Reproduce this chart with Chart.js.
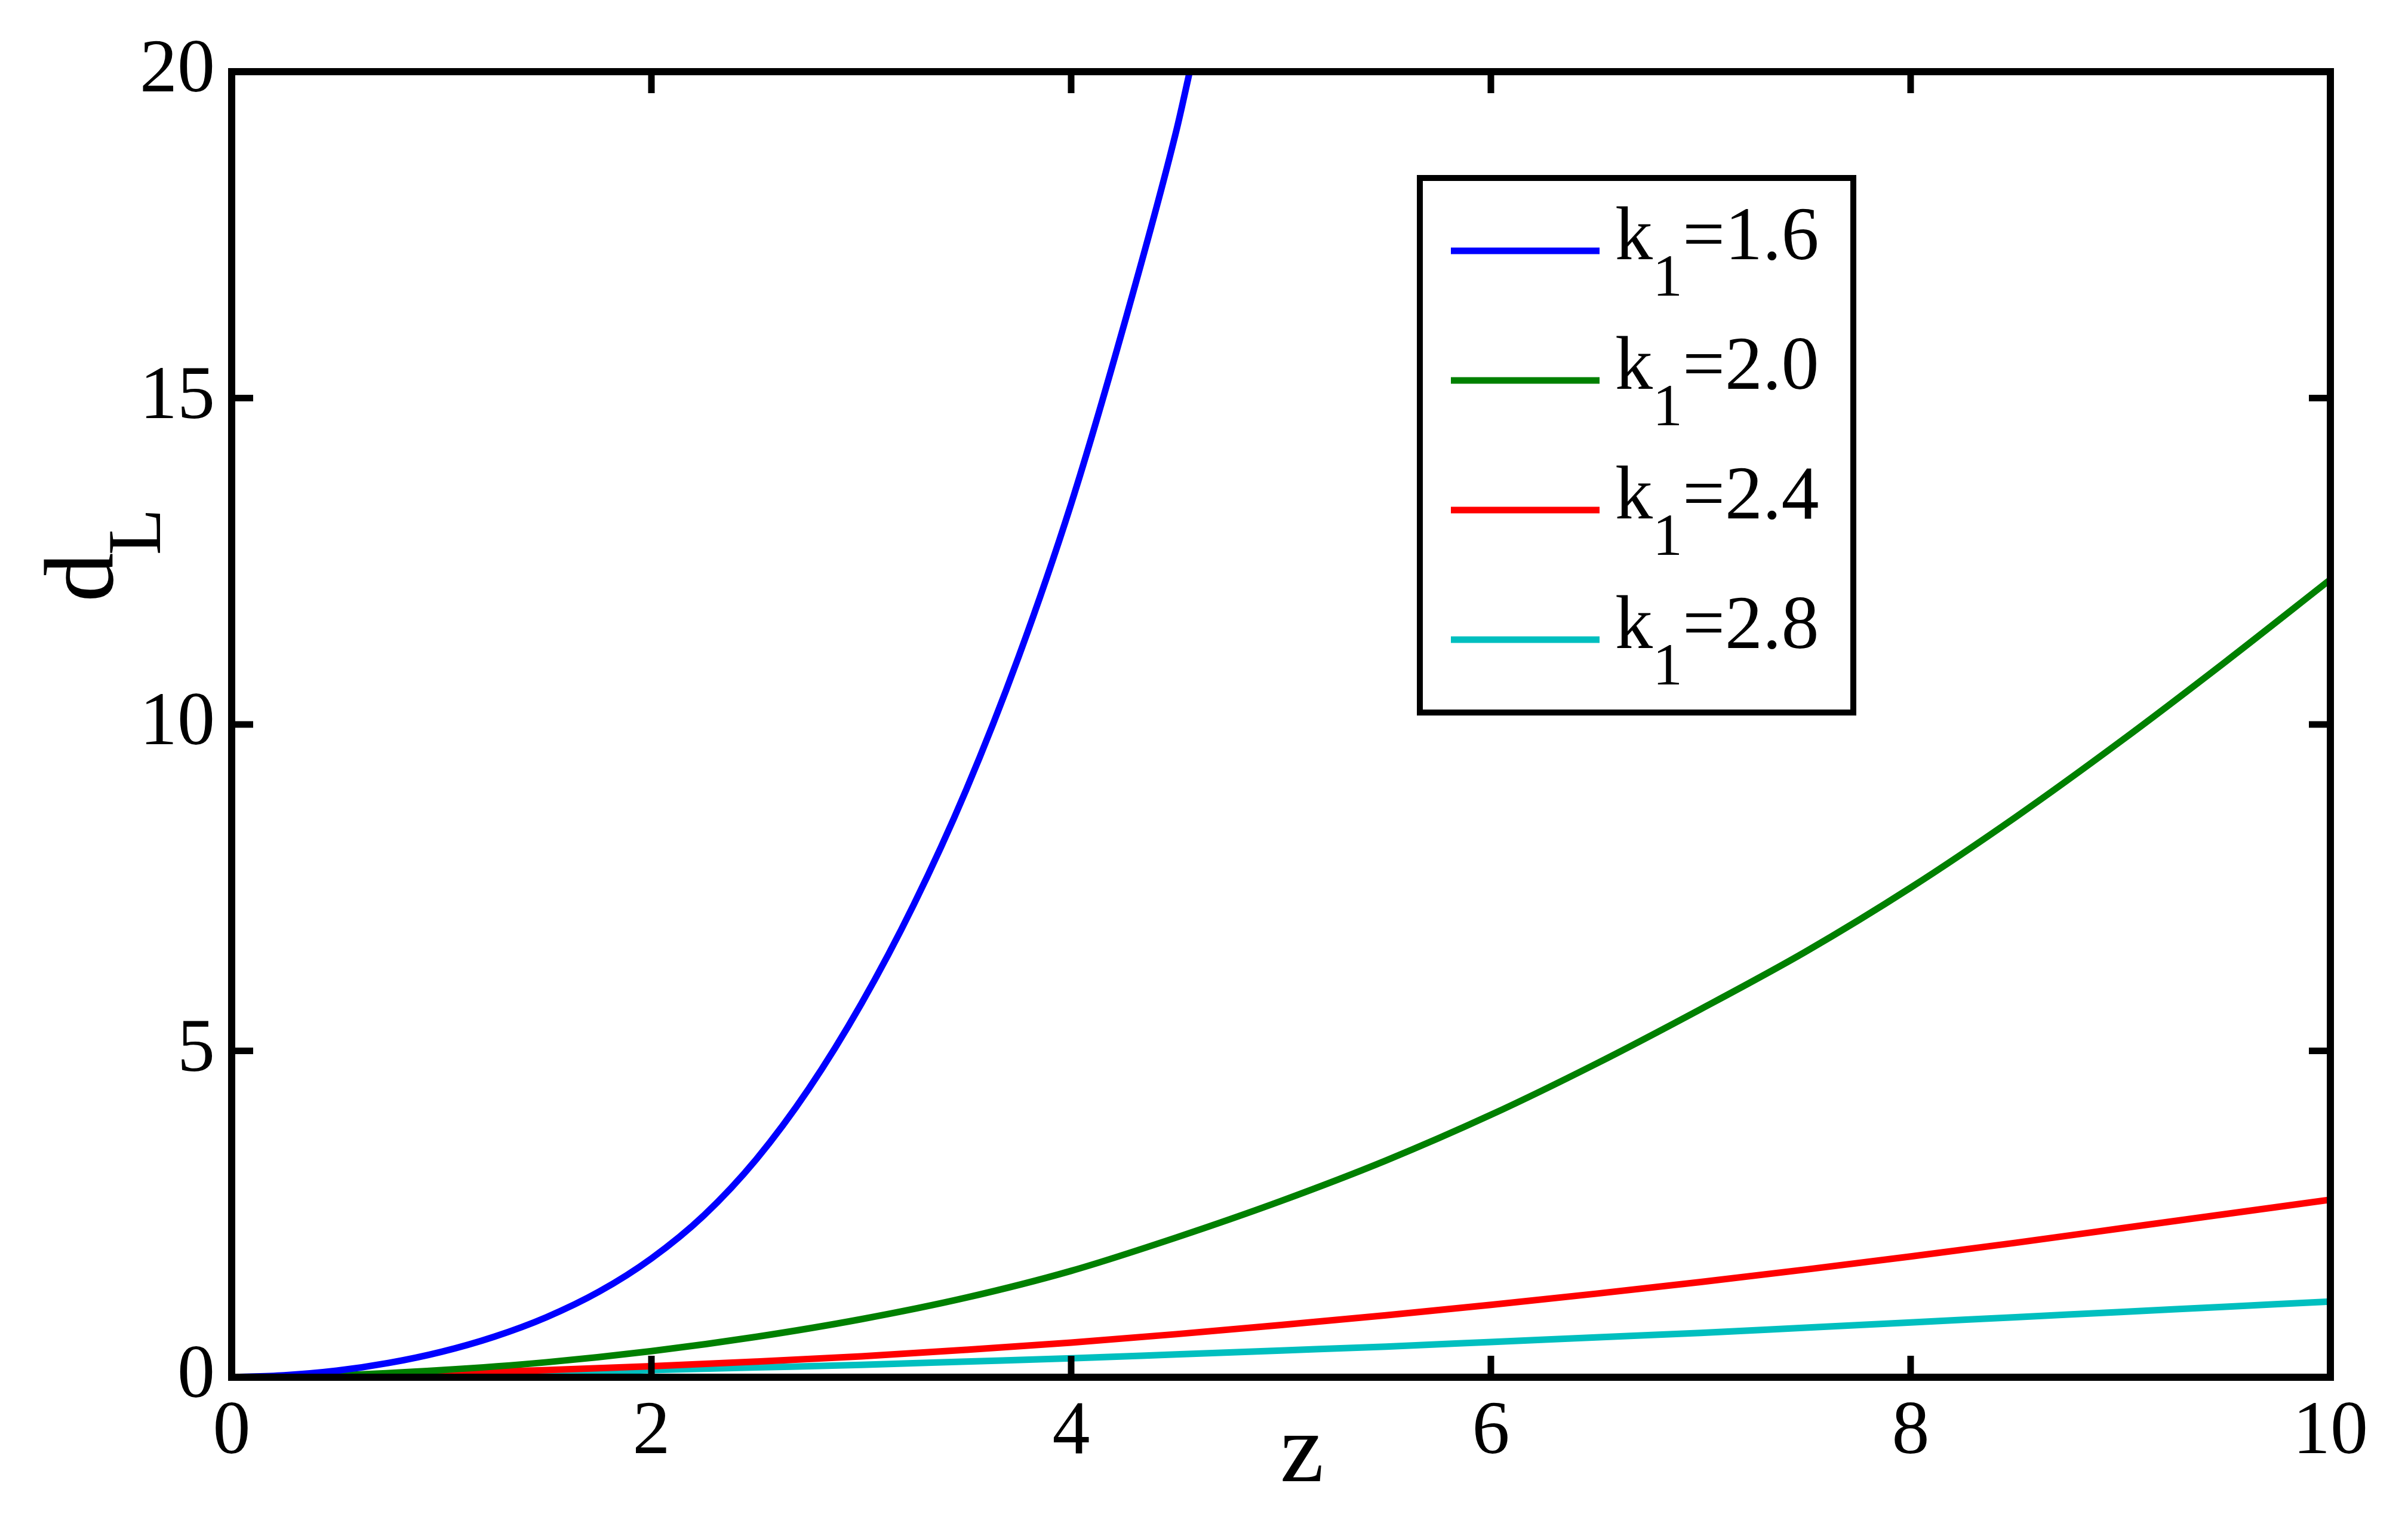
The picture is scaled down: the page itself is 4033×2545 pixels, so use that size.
<!DOCTYPE html>
<html>
<head>
<meta charset="utf-8">
<style>
html,body{margin:0;padding:0;background:#ffffff;}
#wrap{width:4033px;height:2545px;position:relative;}
canvas{display:block;}
</style>
<script src="https://cdn.jsdelivr.net/npm/chart.js@4.4.0/dist/chart.umd.min.js"></script>
</head>
<body>
<div id="wrap"><canvas id="c" width="4033" height="2545"></canvas></div>
<script>
// ---- data ----
const kValues = ['1.6', '2.0', '2.4', '2.8'];
const seriesColors = ['#0000FF', '#008000', '#FF0000', '#00BFBF'];

const zBlue = [0, 0.25, 0.5, 0.75, 1, 1.25, 1.5, 1.75, 2, 2.25, 2.5, 2.75, 3, 3.25, 3.5, 3.75, 4, 4.25, 4.5, 4.565];
const dBlue = [0, 0.03, 0.10, 0.22, 0.39, 0.62, 0.92, 1.31, 1.82, 2.48, 3.34, 4.42, 5.72, 7.24, 9.00, 11.04, 13.38, 16.10, 19.08, 20.00];

const zGrid = [0, 0.5, 1, 1.5, 2, 2.5, 3, 3.5, 4, 4.5, 5, 5.5, 6, 6.5, 7, 7.5, 8, 8.5, 9, 9.5, 10];
const dGreen = [0, 0.03, 0.11, 0.23, 0.40, 0.62, 0.89, 1.22, 1.63, 2.14, 2.70, 3.32, 4.02, 4.80, 5.64, 6.52, 7.50, 8.58, 9.74, 10.96, 12.22];
const dRed   = [0, 0.02, 0.06, 0.11, 0.17, 0.24, 0.32, 0.42, 0.53, 0.66, 0.80, 0.95, 1.11, 1.28, 1.46, 1.65, 1.85, 2.06, 2.28, 2.50, 2.72];
const dCyan  = [0, 0.015, 0.04, 0.07, 0.11, 0.15, 0.19, 0.24, 0.29, 0.35, 0.41, 0.47, 0.54, 0.61, 0.68, 0.76, 0.84, 0.92, 1.00, 1.08, 1.16];

const xTickValues = [0, 2, 4, 6, 8, 10];
const yTickValues = [0, 5, 10, 15, 20];
const xTitle = 'z';
const yTitleMain = 'd';
const yTitleSub = 'L';
const legendMain = 'k';
const legendSub = '1';

// ---- build ----
const FONT = "'Liberation Serif', 'Times New Roman', serif";
const toPts = (zs, ds) => zs.map((z, i) => ({x: z, y: ds[i]}));
const seriesData = [toPts(zBlue, dBlue), toPts(zGrid, dGreen), toPts(zGrid, dRed), toPts(zGrid, dCyan)];

const datasets = seriesData.map((d, i) => ({
  label: legendMain + legendSub + '=' + kValues[i],
  data: d,
  borderColor: seriesColors[i],
  backgroundColor: seriesColors[i],
  borderWidth: 11,
  pointRadius: 0,
  fill: false,
  cubicInterpolationMode: 'monotone'
}));

const framePlugin = {
  id: 'frame',
  afterDatasetsDraw(chart) {
    const {ctx, chartArea: a, scales: {x, y}} = chart;
    const tl = 36;
    ctx.save();
    ctx.strokeStyle = '#000';
    ctx.lineCap = 'butt';
    ctx.beginPath();
    x.ticks.forEach(t => {
      const px = x.getPixelForValue(t.value);
      ctx.moveTo(px, a.bottom); ctx.lineTo(px, a.bottom - tl);
      ctx.moveTo(px, a.top); ctx.lineTo(px, a.top + tl);
    });
    y.ticks.forEach(t => {
      const py = y.getPixelForValue(t.value);
      ctx.moveTo(a.left, py); ctx.lineTo(a.left + tl, py);
      ctx.moveTo(a.right, py); ctx.lineTo(a.right - tl, py);
    });
    ctx.lineWidth = 11;
    ctx.stroke();
    ctx.lineWidth = 12;
    ctx.lineJoin = 'miter';
    ctx.strokeRect(a.left, a.top, a.right - a.left, a.bottom - a.top);
    ctx.restore();
  }
};

const titlesPlugin = {
  id: 'titles',
  afterDraw(chart) {
    const {ctx, chartArea: a} = chart;
    ctx.save();
    ctx.fillStyle = '#000';
    ctx.textBaseline = 'alphabetic';
    ctx.font = '165px ' + FONT;
    ctx.textAlign = 'center';
    ctx.fillText(xTitle, (a.left + a.right) / 2 + 35, a.bottom + 174);
    ctx.translate(a.left - 200, a.top + 888);
    ctx.rotate(-Math.PI / 2);
    ctx.textAlign = 'left';
    ctx.font = '165px ' + FONT;
    ctx.fillText(yTitleMain, 0, 0);
    const w = ctx.measureText(yTitleMain).width;
    ctx.font = '128px ' + FONT;
    ctx.fillText(yTitleSub, w - 4, 80);
    ctx.restore();
  }
};

const legendPlugin = {
  id: 'customLegend',
  afterDraw(chart) {
    const {ctx, chartArea: a} = chart;
    const bx = a.left + 1990, by = a.top + 178, bw = 726, bh = 895;
    ctx.save();
    ctx.fillStyle = '#fff';
    ctx.fillRect(bx, by, bw, bh);
    ctx.strokeStyle = '#000';
    ctx.lineWidth = 10;
    ctx.lineJoin = 'miter';
    ctx.strokeRect(bx, by, bw, bh);
    chart.data.datasets.forEach((ds, i) => {
      const ly = by + 122 + i * 217;
      const x0 = bx + 52, x1 = bx + 301;
      ctx.beginPath();
      ctx.strokeStyle = ds.borderColor;
      ctx.lineWidth = 11;
      ctx.moveTo(x0, ly); ctx.lineTo(x1, ly);
      ctx.stroke();
      ctx.fillStyle = '#000';
      ctx.textAlign = 'left';
      ctx.textBaseline = 'alphabetic';
      const base = ly + 14;
      let tx = x1 + 26;
      ctx.font = '126px ' + FONT;
      ctx.fillText(legendMain, tx, base);
      tx += ctx.measureText(legendMain).width;
      ctx.font = '100px ' + FONT;
      ctx.fillText(legendSub, tx, base + 61);
      tx += ctx.measureText(legendSub).width;
      ctx.font = '126px ' + FONT;
      ctx.fillText('=' + kValues[i], tx, base);
    });
    ctx.restore();
  }
};

const bgPlugin = {
  id: 'bg',
  beforeDraw(chart) {
    const ctx = chart.ctx;
    ctx.save();
    ctx.fillStyle = '#fff';
    ctx.fillRect(0, 0, chart.width, chart.height);
    ctx.restore();
  }
};

function build() {
  new Chart(document.getElementById('c'), {
    type: 'line',
    data: {datasets},
    options: {
      responsive: false,
      devicePixelRatio: 1,
      animation: false,
      layout: {padding: {top: 120, right: 130, left: 0, bottom: 0}},
      plugins: {legend: {display: false}, title: {display: false}, tooltip: {enabled: false}},
      scales: {
        x: {
          type: 'linear', min: 0, max: 10,
          afterBuildTicks: s => { s.ticks = xTickValues.map(v => ({value: v})); },
          afterFit: s => { s.height = 239; },
          grid: {display: false, drawTicks: false},
          border: {display: false},
          ticks: {autoSkip: false, maxRotation: 0, padding: 18, color: '#000', font: {family: FONT, size: 126}}
        },
        y: {
          type: 'linear', min: 0, max: 20,
          afterBuildTicks: s => { s.ticks = yTickValues.map(v => ({value: v})); },
          afterFit: s => { s.width = 388; },
          grid: {display: false, drawTicks: false},
          border: {display: false},
          ticks: {autoSkip: false, padding: 28, color: '#000', font: {family: FONT, size: 126}}
        }
      }
    },
    plugins: [bgPlugin, framePlugin, titlesPlugin, legendPlugin]
  });
}

const fontLoads = ['126px', '100px', '128px', '165px'].map(s => document.fonts.load(s + ' "Liberation Serif"').catch(() => null));
Promise.all(fontLoads).then(build, build);
</script>
</body>
</html>
